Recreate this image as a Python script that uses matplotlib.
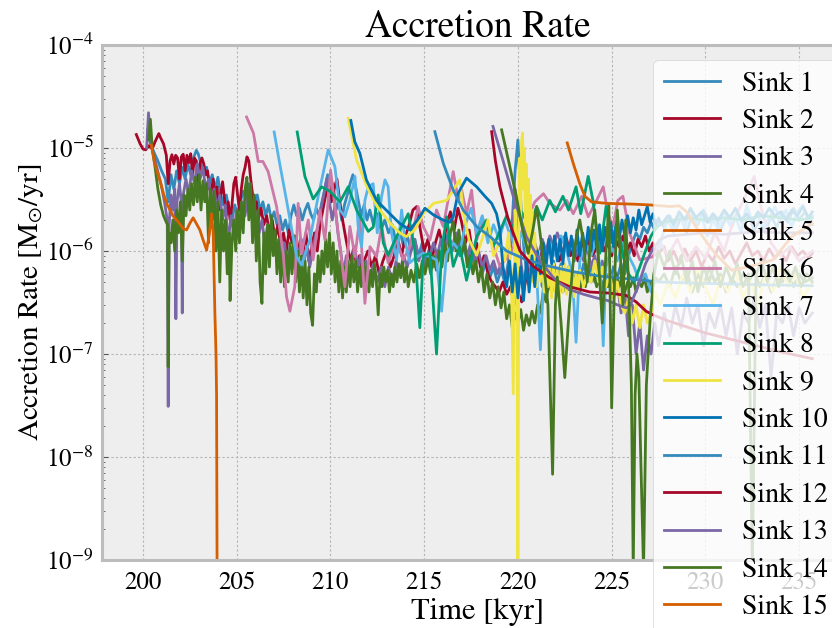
import numpy as np
import matplotlib
matplotlib.use("Agg")
import matplotlib.pyplot as plt

# ---------------- data (time in kyr, accretion rate in 1e-6 Msun/yr) ----------------
labels = ["Sink %d" % i for i in range(1, 16)]

t1 = [200.25, 200.4, 200.6, 200.8, 201.0, 201.2, 201.35, 201.5, 201.65, 201.8, 201.95, 202.1, 202.25, 202.4, 202.55, 202.7, 202.85, 202.95, 203.1, 203.25, 203.4, 203.55, 203.7, 203.85, 204.0, 204.15, 204.3, 204.45, 204.6, 204.75, 204.9, 205.05, 205.2, 205.35, 205.5, 205.65, 205.8, 205.95, 206.1, 206.25, 206.4, 206.55, 206.7, 206.85, 207.0, 207.15, 207.3, 207.45, 207.6, 207.75, 207.9, 208.05, 208.2, 208.35, 208.5, 208.65, 208.8, 208.95, 209.1, 209.25, 209.4, 209.55, 209.7, 209.85, 210.0, 210.15, 210.3, 210.45, 210.6, 210.75, 210.9, 211.05, 211.2, 211.35, 211.5, 211.65, 211.8, 211.95, 212.1, 212.3, 212.5, 212.7, 212.9, 213.1, 213.3, 213.5, 213.7, 213.9, 214.1, 214.3, 214.5, 214.7, 214.9, 215.1, 215.3, 215.5, 215.7, 215.9, 216.1, 216.3, 216.5, 216.7, 216.9, 217.1, 217.3, 217.5, 217.7, 217.9, 218.1, 218.3, 218.5, 218.7, 218.9, 219.1, 219.3, 219.5, 219.7, 219.85, 220.0, 220.1, 220.2, 220.35, 220.5, 220.7, 220.9, 221.1, 221.3, 221.5, 221.7, 221.9, 222.1, 222.3, 222.5, 222.7, 222.9, 223.1, 223.3, 223.5, 223.7, 223.9, 224.1, 224.3, 224.5, 224.7, 224.9, 225.1, 225.3, 225.5, 225.7, 225.9, 226.1, 226.3, 226.5, 226.7, 226.9, 227.1, 227.3, 227.5, 227.8, 228.1, 228.4, 228.7, 229.0, 229.3, 229.6, 229.9, 230.2, 230.5, 230.8, 231.1, 231.4, 231.7, 232.0, 232.3, 232.6, 232.9, 233.2, 233.5, 233.8, 234.1, 234.4, 234.7, 235.0, 235.3, 235.7]
r1 = [15, 11, 9.0, 7.5, 6.0, 5.0, 3.0, 5.5, 4.0, 6.0, 4.5, 6.5, 5.0, 7.0, 5.5, 8.0, 9.5, 8.8, 7.0, 5.5, 6.5, 4.5, 5.5, 4.0, 5.2, 3.5, 2.8, 3.5, 2.5, 2.0, 2.8, 2.2, 3.0, 3.8, 3.2, 4.5, 3.5, 2.8, 3.5, 2.5, 3.0, 2.2, 2.8, 2.0, 2.4, 1.8, 2.2, 1.6, 2.0, 1.5, 2.2, 2.8, 2.2, 2.6, 2.0, 2.5, 2.9, 2.3, 2.0, 2.6, 2.2, 3.0, 4.0, 5.5, 3.5, 4.5, 2.5, 3.0, 2.0, 2.8, 3.5, 4.5, 5.5, 4.2, 3.0, 2.2, 2.8, 2.0, 2.5, 1.8, 2.3, 1.6, 2.0, 1.5, 1.8, 1.2, 1.6, 1.1, 1.4, 1.0, 1.3, 0.9, 1.2, 0.8, 1.1, 0.7, 1.0, 0.8, 1.2, 1.5, 1.0, 1.3, 0.9, 1.1, 0.8, 1.0, 0.7, 0.9, 0.6, 0.8, 0.55, 0.7, 0.5, 0.65, 0.5, 0.8, 2.0, 6.0, 12.0, 5.0, 2.0, 0.9, 0.6, 0.8, 0.5, 0.7, 0.45, 0.65, 0.5, 0.8, 0.55, 0.75, 0.5, 0.7, 0.45, 0.6, 0.5, 0.75, 0.55, 0.7, 0.5, 0.65, 0.45, 0.6, 0.5, 0.7, 0.55, 0.75, 0.6, 0.9, 1.2, 1.5, 1.3, 1.7, 1.5, 1.9, 1.6, 2.0, 1.7, 2.2, 1.6, 2.1, 1.5, 2.3, 1.8, 2.5, 1.9, 2.2, 1.6, 2.1, 1.7, 2.4, 1.8, 2.2, 1.6, 2.0, 1.5, 2.2, 1.7, 2.4, 1.9, 2.6, 2.0, 2.4, 1.8]

t2 = [199.65, 199.85, 200.0, 200.15, 200.3, 200.5, 200.65, 200.85, 200.95, 201.1, 201.25, 201.35, 201.45, 201.55, 201.65, 201.75, 201.85, 201.95, 202.05, 202.15, 202.25, 202.35, 202.45, 202.55, 202.65, 202.75, 202.85, 202.95, 203.05, 203.15, 203.25, 203.35, 203.45, 203.55, 203.65, 203.75, 203.85, 203.95, 204.05, 204.15, 204.25, 204.35, 204.45, 204.55, 204.65, 204.75, 204.85, 204.95, 205.05, 205.15, 205.25, 205.35, 205.45, 205.55, 205.65, 205.75, 205.85, 205.95, 206.05, 206.15, 206.3, 206.45, 206.6, 206.75, 206.9, 207.05, 207.2, 207.35, 207.5, 207.65, 207.8, 207.95, 208.1, 208.25, 208.4, 208.55, 208.7, 208.85, 209.0, 209.15, 209.3, 209.45, 209.6, 209.75, 209.9, 210.05, 210.2, 210.35, 210.5, 210.65, 210.8, 210.95, 211.1, 211.25, 211.4, 211.55, 211.7, 211.85, 212.0, 212.2, 212.4, 212.6, 212.8, 213.0, 213.2, 213.4, 213.6, 213.8, 214.0, 214.2, 214.4, 214.6, 214.8, 215.0, 215.2, 215.4, 215.6, 215.8, 216.0, 216.2, 216.4, 216.6, 216.8, 217.0, 217.2, 217.4, 217.6, 217.8, 218.0, 218.2, 218.4, 218.6, 218.8, 219.0, 219.2, 219.4, 219.6, 219.8, 220.0, 220.2, 220.4, 220.6, 220.8, 221.0, 221.2, 221.4, 221.6, 221.8, 222.0, 222.2, 222.4, 222.6, 222.8, 223.0, 223.2, 223.4, 223.6, 223.8, 224.0, 224.2, 224.4, 224.6, 224.8, 225.0, 225.2, 225.4, 225.6, 225.8, 226.0, 226.2, 226.4, 226.6, 226.8, 227.0, 227.2, 227.4, 227.8, 228.0, 228.3, 228.6, 228.9, 229.2, 229.5, 229.8, 230.1, 230.4, 230.7, 231.0, 231.3, 231.6, 231.9, 232.2, 232.5, 232.8, 233.1, 233.4, 233.7, 234.0, 234.3, 234.6, 234.9, 235.2, 235.5, 235.7]
r2 = [13.5, 11.0, 9.8, 9.6, 10.5, 9.8, 11.5, 13.8, 12.5, 11.0, 8.5, 4.5, 7.5, 8.6, 7.0, 8.5, 8.0, 5.0, 8.2, 8.7, 6.0, 8.5, 7.2, 8.8, 5.5, 8.0, 7.5, 4.5, 7.2, 8.0, 7.0, 5.5, 6.0, 4.0, 3.8, 5.0, 3.0, 4.2, 2.5, 3.5, 4.7, 3.2, 2.2, 3.0, 2.0, 2.8, 4.5, 5.2, 3.5, 2.5, 4.0, 5.5, 6.5, 8.2, 7.5, 5.0, 3.5, 2.5, 3.0, 2.0, 2.6, 1.8, 2.2, 1.5, 2.0, 1.3, 1.8, 1.1, 1.5, 1.0, 1.6, 1.2, 1.4, 0.9, 1.3, 1.0, 1.5, 0.8, 1.1, 1.5, 1.0, 1.8, 2.5, 3.5, 4.5, 3.0, 4.0, 5.0, 3.0, 2.0, 1.4, 1.0, 0.8, 1.1, 0.7, 0.9, 0.6, 0.85, 1.0, 0.7, 0.9, 0.6, 0.8, 1.0, 0.7, 0.9, 1.3, 0.9, 1.4, 1.8, 2.5, 2.7, 1.6, 1.0, 1.3, 0.8, 1.2, 1.6, 1.1, 1.8, 2.4, 1.6, 2.6, 1.9, 1.2, 1.6, 0.9, 1.2, 0.7, 0.9, 0.6, 0.5, 0.45, 0.4, 0.5, 0.38, 0.45, 0.3, 0.4, 0.32, 0.5, 0.7, 0.9, 0.7, 1.0, 0.8, 1.1, 0.9, 1.2, 0.8, 1.0, 1.3, 0.9, 1.1, 0.8, 1.2, 1.0, 1.3, 0.9, 1.1, 1.4, 1.0, 1.2, 0.9, 1.3, 1.1, 1.4, 1.0, 1.2, 0.9, 1.3, 1.1, 1.4, 1.0, 1.2, 0.9, 1.1, 0.8, 1.0, 0.75, 1.05, 0.8, 1.0, 0.7, 0.95, 0.8, 1.1, 0.85, 1.0, 0.75, 0.95, 1.2, 0.9, 1.0, 0.8, 1.05, 0.85, 1.0, 0.8, 1.1, 0.9, 1.0, 0.85, 0.95]

t3 = [200.2, 200.3, 200.4, 200.55, 200.7, 200.85, 201.0, 201.15, 201.3, 201.35, 201.4, 201.5, 201.6, 201.7, 201.76, 201.82, 201.95, 202.05, 202.1, 202.15, 202.3, 202.45, 202.6, 202.75, 202.9, 203.05, 203.2, 203.35, 203.5, 203.65, 203.8, 203.95, 204.1, 204.25, 204.4, 204.55, 204.7, 204.85, 205.0, 205.15, 205.3, 205.45, 205.6, 205.75, 205.9, 206.05, 206.2, 206.35, 206.5, 206.65, 206.8, 206.95, 207.1, 207.25, 207.4, 207.55, 207.7, 207.85, 208.0, 208.15, 208.3, 208.45, 208.6, 208.75, 208.9, 209.05, 209.2, 209.35, 209.5, 209.65, 209.8, 209.95, 210.1, 210.25, 210.4, 210.55, 210.7, 210.85, 211.0, 211.15, 211.3, 211.45, 211.6, 211.75, 211.9, 212.1, 212.3, 212.5, 212.7, 212.9, 213.1, 213.3, 213.5, 213.7, 213.9, 214.1, 214.3, 214.5, 214.7, 214.9, 215.1, 215.3, 215.5, 215.7, 215.9, 216.1, 216.3, 216.5, 216.7, 216.9, 217.1, 217.3, 217.5, 217.7, 217.9, 218.1, 218.3, 218.5, 218.7, 218.9, 219.1, 219.3, 219.5, 219.7, 219.85, 220.0, 220.15, 220.3, 220.5, 220.7, 220.9, 221.1, 221.3, 221.5, 221.7, 221.9, 222.1, 222.3, 222.5, 222.7, 222.9, 223.1, 223.3, 223.5, 223.7, 223.9, 224.1, 224.3, 224.5, 224.7, 224.9, 225.1, 225.3, 225.5, 225.7, 225.9, 226.1, 226.3, 226.5, 226.7, 226.9, 227.1, 227.3, 227.5, 227.8, 228.1, 228.4, 228.7, 229.0, 229.3, 229.6, 229.9, 230.2, 230.5, 230.8, 231.1, 231.4, 231.7, 232.0, 232.3, 232.6, 232.9, 233.2, 233.5, 233.8, 234.1, 234.4, 234.7, 235.0, 235.3, 235.7]
r3 = [10, 22, 12, 9.0, 7.0, 5.5, 4.2, 3.0, 2.0, 0.031, 1.8, 3.5, 2.5, 4.0, 0.22, 3.0, 4.5, 3.0, 0.25, 3.5, 5.0, 3.5, 6.0, 4.5, 7.0, 5.0, 6.5, 4.0, 5.0, 3.0, 4.0, 2.5, 3.5, 2.0, 2.8, 1.2, 2.2, 1.5, 2.5, 1.8, 3.0, 2.2, 3.5, 2.5, 1.8, 2.4, 1.5, 2.0, 1.2, 1.8, 1.0, 1.5, 0.9, 1.3, 0.8, 1.2, 0.7, 1.1, 0.8, 1.2, 0.9, 1.3, 0.8, 1.1, 0.7, 1.0, 1.4, 1.8, 2.6, 3.5, 5.0, 3.0, 2.0, 2.8, 1.5, 1.0, 0.6, 0.9, 0.55, 0.8, 1.1, 0.7, 0.9, 0.6, 0.8, 0.55, 0.75, 0.5, 0.7, 0.45, 0.7, 0.5, 0.8, 0.6, 0.9, 0.7, 1.0, 1.3, 0.8, 1.0, 0.7, 0.9, 1.2, 0.9, 1.3, 1.0, 1.4, 1.1, 1.5, 1.1, 1.3, 0.9, 1.2, 0.8, 1.0, 0.7, 0.9, 0.65, 0.8, 0.6, 0.75, 0.55, 0.7, 1.5, 4.0, 2.0, 0.8, 0.5, 0.7, 0.9, 1.2, 0.9, 1.3, 1.0, 1.4, 1.1, 1.5, 1.2, 1.4, 1.0, 1.3, 0.9, 1.2, 0.8, 1.1, 0.7, 0.9, 0.6, 0.8, 0.5, 0.6, 0.35, 0.5, 0.25, 0.4, 0.15, 0.3, 0.1, 0.2, 0.07, 0.15, 0.1, 0.2, 0.12, 0.25, 0.15, 0.3, 0.18, 0.35, 0.2, 0.3, 0.12, 0.25, 0.18, 0.3, 0.15, 0.28, 0.1, 0.25, 0.2, 0.35, 0.18, 0.3, 0.06, 0.25, 0.2, 0.3, 0.15, 0.28, 0.2, 0.25]

t4 = [200.3, 200.4, 200.5, 200.65, 200.8, 200.95, 201.1, 201.25, 201.32, 201.35, 201.4, 201.5, 201.6, 201.7, 201.8, 201.9, 202.0, 202.1, 202.2, 202.3, 202.4, 202.5, 202.6, 202.7, 202.8, 202.9, 203.0, 203.1, 203.2, 203.3, 203.4, 203.5, 203.6, 203.7, 203.8, 203.9, 204.0, 204.1, 204.2, 204.3, 204.4, 204.5, 204.6, 204.65, 204.75, 204.85, 204.95, 205.05, 205.15, 205.25, 205.35, 205.45, 205.55, 205.65, 205.75, 205.85, 205.95, 206.05, 206.15, 206.25, 206.35, 206.45, 206.55, 206.65, 206.75, 206.85, 206.95, 207.05, 207.15, 207.25, 207.35, 207.45, 207.55, 207.65, 207.75, 207.85, 207.95, 208.05, 208.15, 208.25, 208.35, 208.45, 208.55, 208.65, 208.75, 208.85, 208.95, 209.05, 209.15, 209.25, 209.35, 209.45, 209.55, 209.65, 209.75, 209.85, 209.95, 210.05, 210.15, 210.25, 210.35, 210.45, 210.55, 210.65, 210.75, 210.85, 210.95, 211.05, 211.15, 211.25, 211.35, 211.45, 211.55, 211.65, 211.75, 211.85, 211.95, 212.05, 212.15, 212.25, 212.35, 212.45, 212.55, 212.65, 212.75, 212.85, 212.95, 213.05, 213.15, 213.25, 213.35, 213.45, 213.55, 213.65, 213.75, 213.85, 213.95, 214.05, 214.15, 214.3, 214.45, 214.6, 214.75, 214.9, 215.05, 215.2, 215.35, 215.5, 215.65, 215.8, 215.95, 216.1, 216.25, 216.4, 216.55, 216.7, 216.85, 217.0, 217.15, 217.3, 217.45, 217.6, 217.75, 217.9, 218.05, 218.2, 218.35, 218.5, 218.65, 218.8, 218.95, 219.1, 219.25, 219.4, 219.55, 219.7, 219.85, 220.0, 220.15, 220.3, 220.45, 220.6, 220.75, 220.9, 221.05, 221.2, 221.35, 221.5, 221.65, 221.8, 221.95, 222.1, 222.25, 222.4, 222.55, 222.7, 222.85, 223.0, 223.15, 223.3, 223.45, 223.6, 223.75, 223.9, 224.05, 224.2, 224.35, 224.5, 224.65, 224.8, 224.95, 225.1, 225.25, 225.4, 225.55, 225.7, 225.85, 226.0, 226.15, 226.3, 226.45, 226.6, 226.75, 226.9, 227.05, 227.2, 227.35, 227.5, 227.8, 228.1, 228.4, 228.7, 229.0, 229.3, 229.6, 229.9, 230.2, 230.5, 230.8, 231.1, 231.4, 231.7, 232.0, 232.3, 232.6, 232.9, 233.2, 233.5, 233.8, 234.1, 234.4, 234.7, 235.0, 235.3, 235.7]
r4 = [12, 19, 10, 6.5, 4.0, 2.8, 2.2, 1.9, 1.8, 0.075, 1.5, 1.2, 2.0, 1.0, 2.5, 1.5, 3.0, 0.8, 3.5, 2.2, 4.0, 2.5, 4.5, 2.8, 5.2, 3.0, 5.5, 2.5, 4.8, 3.0, 4.5, 1.2, 4.0, 2.0, 3.8, 1.0, 3.0, 0.5, 2.5, 1.0, 2.0, 0.6, 1.5, 0.33, 1.2, 2.0, 1.0, 2.5, 1.2, 3.0, 1.5, 4.0, 5.2, 2.0, 4.5, 1.2, 3.5, 0.8, 2.5, 0.5, 0.31, 1.5, 0.6, 1.8, 0.7, 2.2, 0.9, 1.6, 0.6, 1.3, 0.5, 1.1, 0.45, 1.0, 0.5, 1.2, 0.6, 1.4, 0.5, 1.0, 0.4, 0.9, 0.35, 0.8, 0.3, 0.7, 0.25, 0.19, 0.6, 0.4, 0.9, 0.5, 1.0, 0.6, 1.3, 0.7, 1.5, 0.6, 1.2, 0.5, 1.0, 0.4, 0.8, 0.35, 0.7, 0.4, 0.8, 0.45, 0.9, 0.5, 0.8, 0.4, 0.7, 0.45, 0.8, 0.5, 0.7, 0.4, 0.65, 0.45, 0.75, 0.5, 0.24, 0.6, 0.45, 0.7, 0.5, 0.65, 0.4, 0.6, 0.45, 0.7, 0.5, 0.75, 0.55, 0.8, 0.5, 0.7, 0.45, 0.65, 0.5, 0.75, 0.55, 0.8, 0.6, 0.85, 0.6, 0.9, 0.65, 1.0, 0.7, 1.2, 0.8, 1.5, 1.9, 1.0, 1.6, 0.9, 1.3, 0.7, 0.9, 0.6, 0.8, 0.5, 0.7, 0.4, 0.6, 0.35, 0.5, 0.3, 0.45, 0.28, 0.4, 0.22, 0.3, 0.18, 0.25, 0.2, 0.27, 0.17, 0.24, 0.19, 0.26, 0.2, 0.3, 0.25, 0.4, 0.32, 0.5, 0.4, 0.55, 0.45, 0.6, 0.4, 0.55, 0.42, 0.6, 0.45, 0.55, 0.4, 0.6, 0.45, 0.65, 0.5, 0.6, 0.45, 0.55, 0.4, 0.6, 0.45, 0.55, 0.5, 0.6, 0.45, 0.55, 0.4, 0.5, 0.45, 0.55, 0.4, 0.5, 0.45, 0.55, 0.4, 0.5, 0.45, 0.55, 0.5, 0.6, 0.45, 0.7, 0.5, 0.65, 0.4, 0.6, 0.45, 0.7, 0.5, 0.6, 0.4, 0.55, 0.45, 0.6, 0.5, 0.65, 0.45, 0.6, 0.4, 0.55, 0.5, 0.65, 0.45, 0.6, 0.5, 0.55]

t5 = [200.45, 200.6, 200.75, 200.9, 201.1, 201.3, 201.45, 201.6, 201.8, 202.0, 202.15, 202.33, 202.5, 202.68, 202.85, 203.04, 203.2, 203.4, 203.55, 203.66, 203.75, 203.84, 203.9, 203.93, 203.96]
r5 = [10.7, 7.5, 6.0, 4.9, 3.6, 2.8, 2.5, 2.2, 2.0, 1.8, 1.65, 1.6, 1.85, 2.1, 1.85, 1.6, 1.3, 1.02, 1.5, 2.3, 1.5, 0.25, 0.1, 0.04, 0.0005]

t6 = [205.53, 205.9, 206.15, 206.4, 206.68, 207.13, 207.48, 207.66, 207.84, 208.1, 208.28, 208.46, 208.82, 209.08, 209.44, 209.71, 210.01, 210.24, 210.51, 210.77, 211.04, 211.31, 211.57, 211.84, 212.11, 212.46, 212.73, 213.08, 213.53, 213.88, 214.24, 214.68, 214.95, 215.31, 215.66, 216.02, 216.55, 216.82, 217.0, 217.26, 217.53, 217.8, 218.15, 218.51, 219.04, 219.5, 220.0, 220.5, 220.9, 221.36, 221.71, 222.24, 222.6, 222.95, 223.4, 223.75, 224.2, 224.55, 224.8, 225.07, 225.33, 225.6, 225.95, 226.5, 227.2, 227.6, 228.0, 228.5, 229.0, 229.5, 230.0, 230.5, 231.0, 231.5, 232.0, 232.6, 233.0, 233.5, 234.0, 234.5, 235.0, 235.7]
r6 = [20, 13.9, 7.4, 7.4, 5.9, 2.7, 0.95, 0.36, 0.26, 0.45, 2.9, 0.95, 2.0, 0.82, 2.5, 1.28, 6.1, 2.7, 1.1, 0.45, 1.73, 0.88, 2.15, 0.31, 1.1, 0.88, 1.73, 0.77, 1.28, 0.82, 1.1, 2.7, 1.73, 1.28, 2.5, 1.73, 5.9, 3.1, 3.9, 2.3, 3.9, 1.28, 2.0, 1.4, 0.71, 0.9, 1.3, 2.0, 3.0, 3.6, 2.9, 2.5, 3.1, 2.3, 3.4, 2.15, 3.1, 4.2, 2.3, 1.73, 3.1, 3.4, 1.5, 0.82, 0.88, 1.2, 0.9, 1.3, 0.8, 1.1, 0.85, 1.5, 1.0, 2.0, 3.0, 5.3, 2.5, 1.2, 0.9, 1.1, 0.8, 1.0]

t7 = [207.0, 207.3, 207.66, 208.2, 208.46, 208.9, 209.35, 209.88, 210.24, 210.51, 210.77, 211.04, 211.31, 211.48, 211.66, 211.84, 212.02, 212.28, 212.5, 212.73, 212.91, 213.08, 213.26, 213.53, 213.8, 213.97, 214.24, 214.6, 214.95, 215.31, 215.66, 215.93, 216.2, 216.55, 216.9, 217.2, 217.5, 217.8, 218.1, 218.4, 218.7, 219.0, 219.3, 219.6, 219.9, 220.2, 220.5, 220.8, 221.0, 221.2, 221.4, 221.7, 222.0, 222.3, 222.6, 222.9, 223.1, 223.3, 223.6, 223.9, 224.2, 224.4, 224.55, 224.7, 225.0, 225.3, 225.6, 225.9, 226.2, 226.5, 226.8, 227.1, 227.4, 227.7, 228.0, 228.3, 228.6, 228.9, 229.2, 229.5, 229.8, 230.1, 230.4, 230.7, 231.0, 231.3, 231.6, 231.9, 232.2, 232.5, 232.8, 233.1, 233.4, 233.7, 234.0, 234.3, 234.6, 234.9, 235.2, 235.5, 235.7]
r7 = [14.3, 7.0, 3.1, 0.88, 0.73, 1.28, 3.4, 9.6, 6.6, 2.5, 2.15, 3.1, 5.3, 1.73, 1.1, 3.1, 4.2, 4.5, 1.5, 3.4, 4.9, 4.2, 1.5, 0.82, 2.5, 1.28, 0.77, 0.88, 0.95, 0.88, 0.82, 0.26, 0.95, 1.2, 1.0, 1.8, 2.6, 1.5, 2.2, 1.2, 1.8, 1.3, 2.0, 1.4, 1.1, 1.5, 1.0, 1.3, 0.6, 0.11, 0.7, 1.2, 0.9, 1.4, 1.0, 0.6, 0.13, 0.8, 1.2, 0.9, 1.3, 0.6, 0.12, 0.7, 1.1, 0.8, 1.2, 0.9, 0.7, 0.5, 0.6, 0.4, 0.8, 1.4, 2.0, 1.5, 2.4, 1.7, 2.6, 1.8, 2.2, 1.4, 2.0, 1.6, 2.5, 1.8, 2.2, 1.5, 2.8, 1.9, 2.3, 1.6, 2.1, 2.7, 2.0, 2.5, 1.7, 2.4, 2.8, 1.9, 2.2]

t8 = [208.23, 208.64, 209.08, 209.53, 209.97, 210.51, 210.95, 211.4, 212.02, 212.28, 212.55, 212.82, 213.08, 213.53, 214.15, 214.51, 214.77, 214.95, 215.31, 215.66, 215.93, 216.2, 216.55, 216.9, 217.26, 217.8, 218.33, 218.68, 219.0, 219.4, 219.8, 220.2, 220.6, 221.0, 221.3, 221.7, 222.0, 222.4, 222.7, 223.1, 223.35, 223.75, 224.0, 224.37, 224.7, 225.0, 225.3, 225.6, 225.9, 226.2, 226.5, 226.8, 227.1, 227.4, 227.8, 228.3, 229.0, 230.0, 231.0, 232.0, 233.0, 234.0, 235.0, 235.7]
r8 = [14.3, 5.3, 3.2, 4.2, 3.8, 3.0, 4.2, 2.5, 1.55, 1.7, 3.5, 1.2, 0.91, 1.38, 2.3, 1.0, 0.18, 0.9, 0.95, 0.1, 1.0, 2.15, 0.71, 1.1, 0.52, 1.38, 2.0, 1.1, 1.5, 2.2, 1.6, 2.4, 1.7, 2.7, 2.0, 3.1, 2.4, 3.4, 2.5, 4.2, 2.3, 5.3, 3.1, 0.95, 2.7, 1.2, 2.0, 0.9, 0.6, 0.5, 0.7, 1.0, 1.4, 1.7, 1.9, 2.0, 2.1, 2.0, 2.1, 2.0, 2.2, 2.1, 2.0, 2.1]

t9 = [210.95, 211.4, 211.95, 212.5, 213.2, 213.7, 214.05, 214.5, 214.95, 215.5, 216.2, 216.55, 216.9, 217.1, 217.4, 217.8, 218.15, 218.4, 218.7, 219.0, 219.3, 219.5, 219.65, 219.75, 219.85, 219.95, 220.0, 220.05, 220.1, 220.15, 220.2, 220.25, 220.3, 220.35, 220.4, 220.45, 220.5, 220.55, 220.6, 220.65, 220.7, 220.75, 220.8, 220.9, 221.0, 221.1, 221.2, 221.3, 221.4, 221.5, 221.6, 221.7, 221.8, 221.9, 222.0, 222.1, 222.2, 222.3, 222.4, 222.5, 222.6, 222.7, 222.8, 222.9, 223.0, 223.1, 223.2, 223.3, 223.5, 223.7, 223.9, 224.1, 224.3, 224.5, 224.7, 224.9, 225.1, 225.3, 225.5, 225.7, 225.9, 226.1, 226.3, 226.5, 226.7, 226.9, 227.1, 227.3, 227.6, 228.0, 228.4, 228.8, 229.2, 229.6, 230.0, 230.4, 230.8, 231.2, 231.6, 232.0, 232.4, 232.8, 233.2, 233.6, 234.0, 234.4, 234.8, 235.2, 235.7]
r9 = [19.4, 7.6, 4.2, 2.7, 1.85, 1.5, 1.38, 1.6, 2.3, 2.9, 3.1, 3.9, 4.9, 2.3, 1.28, 0.91, 1.4, 2.0, 0.9, 1.2, 0.8, 1.5, 0.6, 0.041, 2.5, 0.8, 0.0005, 3.0, 8.0, 2.0, 12.0, 14.0, 4.0, 10.0, 1.5, 7.0, 1.0, 5.0, 0.8, 3.5, 0.6, 2.5, 0.5, 1.5, 0.45, 1.0, 0.5, 0.9, 0.4, 0.8, 0.45, 0.7, 0.35, 0.75, 0.4, 0.65, 0.35, 0.7, 0.4, 0.75, 0.38, 0.7, 0.42, 0.65, 0.36, 0.6, 0.4, 0.65, 0.45, 0.6, 0.5, 0.8, 0.5, 0.7, 0.45, 0.6, 0.35, 0.5, 0.3, 0.25, 0.35, 0.2, 0.3, 0.18, 0.3, 0.2, 0.25, 0.4, 0.3, 0.5, 0.35, 0.6, 0.4, 0.7, 0.45, 0.3, 0.55, 0.4, 0.65, 0.35, 0.5, 0.3, 0.6, 0.4, 0.7, 0.45, 0.6, 0.35, 0.5]

t10 = [211.09, 211.3, 211.57, 211.92, 212.46, 213.17, 213.7, 214.24, 214.77, 215.04, 215.5, 216.0, 216.37, 216.55, 216.8, 217.26, 217.8, 218.24, 218.6, 218.86, 219.04, 219.2, 219.4, 219.55, 219.7, 219.85, 220.0, 220.15, 220.3, 220.45, 220.6, 220.75, 220.9, 221.05, 221.2, 221.35, 221.5, 221.65, 221.8, 221.95, 222.1, 222.25, 222.4, 222.55, 222.7, 222.85, 223.0, 223.15, 223.3, 223.45, 223.6, 223.75, 223.9, 224.05, 224.2, 224.35, 224.5, 224.65, 224.8, 224.95, 225.1, 225.25, 225.4, 225.55, 225.7, 225.85, 226.0, 226.15, 226.3, 226.45, 226.6, 226.75, 226.9, 227.05, 227.2, 227.35, 227.5, 227.65, 228.0, 228.3, 228.6, 228.9, 229.2, 229.5, 229.8, 230.1, 230.4, 230.7, 231.0, 231.3, 231.6, 231.9, 232.2, 232.5, 232.8, 233.1, 233.4, 233.7, 234.0, 234.3, 234.6, 234.9, 235.2, 235.5, 235.7]
r10 = [18.5, 11.5, 8.9, 4.9, 3.1, 2.3, 1.85, 1.6, 2.15, 2.6, 2.24, 2.0, 1.9, 2.15, 3.6, 5.1, 4.2, 3.4, 2.9, 2.3, 1.6, 0.71, 0.45, 0.8, 0.4, 0.75, 0.35, 0.7, 0.33, 0.8, 0.4, 0.9, 0.45, 1.0, 0.6, 1.2, 0.7, 1.3, 0.75, 1.4, 0.8, 1.3, 0.75, 1.5, 0.9, 1.4, 0.8, 1.6, 0.9, 1.5, 1.0, 1.7, 1.0, 1.6, 1.1, 1.8, 1.0, 1.7, 1.2, 1.9, 1.1, 1.8, 1.3, 2.0, 1.4, 2.2, 1.5, 2.1, 1.6, 2.5, 1.8, 2.2, 2.7, 1.9, 2.3, 1.8, 2.1, 1.8, 2.2, 1.8, 2.4, 2.0, 2.6, 2.1, 2.4, 1.9, 2.3, 2.0, 2.5, 2.1, 2.6, 2.0, 2.3, 1.9, 2.4, 2.1, 2.6, 2.2, 2.4, 2.0, 2.5, 2.2, 2.7, 2.1, 2.4]

t11 = [215.57, 216.02, 216.55, 217.08, 217.8, 218.51, 219.4, 220.45, 221.7, 222.95, 224.37, 226.15, 227.6, 229.0, 231.0, 233.0, 235.7]
r11 = [14.4, 7.1, 3.9, 2.5, 1.73, 1.38, 1.0, 0.82, 0.71, 0.63, 0.57, 0.53, 0.50, 0.49, 0.48, 0.47, 0.46]

t12 = [218.6, 218.8, 219.04, 219.49, 220.11, 220.82, 221.7, 222.76, 223.83, 224.89, 225.78, 226.31, 226.84, 227.2, 228.0, 230.0, 232.0, 234.0, 235.7]
r12 = [14.4, 7.5, 4.2, 2.0, 1.0, 0.71, 0.55, 0.45, 0.40, 0.39, 0.37, 0.32, 0.26, 0.24, 0.21, 0.16, 0.13, 0.105, 0.09]

t13 = [218.67, 219.2, 219.75, 220.45, 221.15, 221.86, 222.2, 222.8, 223.5, 224.2, 224.8, 225.3, 225.8, 226.0, 226.4, 226.8, 227.2, 227.6, 228.0, 229.0, 230.0, 231.0, 232.0, 233.0, 234.0, 235.7]
r13 = [16.2, 7.6, 3.4, 1.38, 0.82, 0.56, 0.49, 0.42, 0.38, 0.35, 0.33, 0.3, 0.28, 0.3, 0.45, 0.75, 1.05, 1.3, 1.4, 1.45, 1.5, 1.45, 1.5, 1.55, 1.5, 1.5]

t14 = [219.13, 219.5, 219.9, 220.2, 220.55, 220.8, 221.0, 221.3, 221.6, 221.85, 222.0, 222.1, 222.3, 222.5, 222.75, 223.0, 223.3, 223.5, 223.7, 223.9, 224.1, 224.3, 224.5, 224.7, 224.85, 225.0, 225.15, 225.3, 225.45, 225.6, 225.75, 225.9, 226.05, 226.15, 226.25, 226.35, 226.45, 226.55, 226.7, 226.85, 227.04, 227.25, 227.5, 227.8, 228.1, 228.4, 228.7, 229.0, 229.3, 229.6, 229.9, 230.2, 230.5, 230.8, 231.1, 231.4, 231.7, 232.0, 232.3, 232.5, 232.7, 233.0, 233.3, 233.6, 233.9, 234.2, 234.5, 234.8, 235.1, 235.4, 235.7]
r14 = [15, 7.5, 3.5, 1.8, 0.95, 1.6, 2.7, 1.0, 0.3, 0.0068, 0.3, 0.56, 0.2, 0.059, 0.3, 1.0, 2.0, 1.2, 0.5, 1.5, 2.5, 0.8, 0.2, 1.0, 2.8, 0.03, 0.5, 2.5, 1.0, 0.3, 2.0, 0.5, 0.05, 0.0008, 0.04, 0.1, 0.06, 0.01, 0.0008, 0.05, 0.2, 0.6, 1.0, 0.7, 1.0, 0.6, 0.9, 0.5, 0.8, 0.4, 0.7, 0.5, 0.8, 0.45, 0.7, 0.5, 0.75, 0.45, 0.6, 0.0008, 0.6, 0.8, 0.5, 0.7, 0.45, 0.65, 0.5, 0.7, 0.45, 0.6, 0.5]

t15 = [222.63, 222.95, 223.3, 223.57, 223.93, 224.73, 226.15, 227.04, 227.6, 228.1, 228.6, 229.0, 229.6, 230.5, 231.4, 232.4, 233.6, 234.6, 235.7]
r15 = [11.2, 7.1, 4.5, 3.4, 3.0, 2.9, 2.85, 2.8, 2.75, 2.7, 2.75, 2.4, 1.6, 0.95, 0.65, 0.71, 0.82, 1.38, 1.85]

times = [t1, t2, t3, t4, t5, t6, t7, t8, t9, t10, t11, t12, t13, t14, t15]
rates = [r1, r2, r3, r4, r5, r6, r7, r8, r9, r10, r11, r12, r13, r14, r15]
unit = 1e-6  # rates above are in units of 1e-6 Msun/yr

colors = ['#348ABD', '#A60628', '#7A68A6', '#467821', '#D55E00',
          '#CC79A7', '#56B4E9', '#009E73', '#F0E442', '#0072B2']

xticks = [200, 205, 210, 215, 220, 225, 230, 235]

# ---------------- style ----------------
plt.style.use('bmh')
plt.rcParams['font.family'] = ['STIXGeneral', 'DejaVu Serif']
plt.rcParams['mathtext.fontset'] = 'stix'

fig = plt.figure(figsize=(8.32, 6.28), dpi=100)
ax = fig.add_axes([102/832, 1 - 560/628, 751/832, 515/628])
ax.set_facecolor('#eeeeee')

for i, (t, r) in enumerate(zip(times, rates)):
    ax.plot(t, np.asarray(r) * unit, color=colors[i % len(colors)], lw=2.0,
            label=labels[i])

ax.set_yscale('log')
ax.set_ylim(1e-9, 1e-4)
ax.set_xlim(197.82, 237.87)
ax.set_xticks(xticks)

ax.grid(True, which='major', color='#b4b4b4', linestyle=(0, (2.0, 2.0)), linewidth=0.8)
ax.grid(False, which='minor')
for s in ax.spines.values():
    s.set_color('#bcbcbc')
    s.set_linewidth(2.2)

ax.tick_params(axis='both', which='both', direction='in', labelsize=18, colors='#555555',
               labelcolor='black')
ax.tick_params(axis='x', which='major', length=0, pad=8)
ax.tick_params(axis='y', which='major', length=4, pad=6)
ax.tick_params(axis='y', which='minor', length=2.5)

ax.set_title('Accretion Rate', fontsize=27, pad=5)
ax.set_xlabel('Time [kyr]', fontsize=22, labelpad=2)
ax.set_ylabel(r'Accretion Rate [M$_{\odot}$/yr]', fontsize=21, labelpad=0)

leg = ax.legend(loc='upper left', bbox_to_anchor=(653/832, 1 - 60/628),
                bbox_transform=fig.transFigure, borderaxespad=0, fontsize=20,
                labelspacing=0.43, handlelength=2.0, handletextpad=0.8,
                framealpha=0.8, edgecolor='#cccccc', facecolor='white')
for line in leg.get_lines():
    line.set_linewidth(2.0)

fig.savefig('out.png', dpi=100)
